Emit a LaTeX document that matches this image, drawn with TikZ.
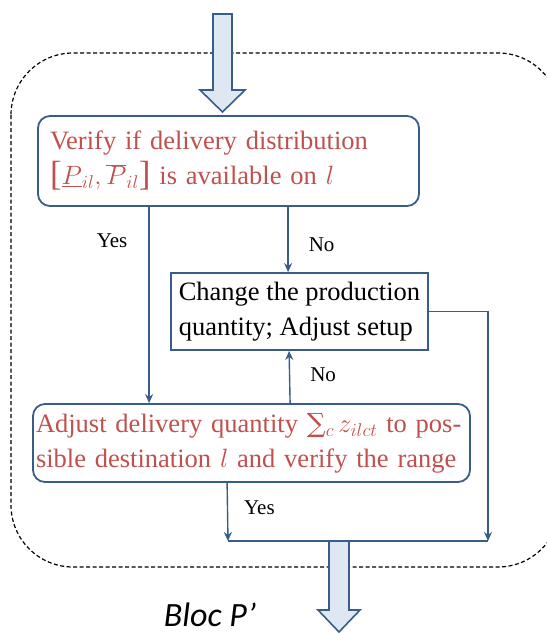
\RequirePackage{fix-cm}
\documentclass[tikz,border=0pt]{standalone}
\usepackage{fontspec}
\setmainfont{Liberation Serif}
\newfontfamily\blocfont{Carlito}
\newfontfamily\sumfont{DejaVu Serif}
\usetikzlibrary{arrows.meta}
\definecolor{boxblue}{RGB}{56,93,138}
\definecolor{textred}{RGB}{192,80,77}
\definecolor{arrowfill}{RGB}{222,232,243}
\newcommand\tallbr[1]{{\fontsize{35}{35}\selectfont\raisebox{-1pt}{#1}}}

\begin{document}
\begin{tikzpicture}[x=1pt,y=-1pt,
    box/.style={draw=boxblue,line width=1.8pt,align=left,inner sep=0pt,
      font=\fontsize{26.5}{35}\selectfont},
    flow/.style={draw=boxblue,line width=1.4pt,-{Stealth[length=9pt,width=8pt]}},
    lbl/.style={font=\fontsize{21}{24}\selectfont,inner sep=0pt},
    bigarrow/.style={draw=boxblue,line width=1.6pt,fill=arrowfill}]
  \useasboundingbox (0,0) rectangle (547,633);
  \draw[line width=1.2pt,dash pattern=on 4pt off 2.5pt,rounded corners=62pt]
    (11,53) rectangle (560,567);
  % input arrow
  \draw[bigarrow] (213,14) -- (232,14) -- (232,90) -- (245,90) -- (222.5,112)
    -- (200,90) -- (213,90) -- cycle;
  \node[box,rounded corners=12pt,minimum width=381pt,minimum height=90pt,
    text=textred,text width=357pt] (verify) at (228.5,161)
    {Verify if delivery distribution\\
     \tallbr{[}$\underline{P}_{il},\overline{P}_{il}$\tallbr{]} is available on $l$};
  \node[box,minimum width=257pt,minimum height=77pt] (change) at (299.5,311.5)
    {Change the production\\quantity; Adjust setup};
  \node[box,rounded corners=12pt,minimum width=437pt,minimum height=78pt,
    text=textred,text width=431pt] (adjust) at (251.5,443)
    {Adjust delivery quantity {\sumfont ∑}$_c\,z_{ilct}$ to pos-\\
     sible destination $l$ and verify the range};
  \coordinate (join) at (228,541);
  \coordinate (rt) at (488,541);
  \draw[flow] ([xshift=112pt]verify.south west) --
    node[lbl,pos=.17,left=21pt]{Yes} ([xshift=117pt]adjust.north west);
  \draw[flow] ([xshift=251pt]verify.south west) --
    node[lbl,pos=.58,right=20pt]{No} ([xshift=118pt]change.north west);
  \draw[flow] ([xshift=258pt]adjust.north west) --
    node[lbl,pos=.54,right=20pt]{No} ([xshift=119pt]change.south west);
  \draw[flow] ([xshift=195pt]adjust.south west) --
    node[lbl,pos=.42,right=16pt]{Yes} (join);
  \draw[flow] (change.east) -| (rt);
  \draw[draw=boxblue,line width=1.4pt] (join) -- (rt);
  % output arrow
  \draw[bigarrow] (329,541) -- (349,541) -- (349,610) -- (360,610) -- (339,632)
    -- (318,610) -- (329,610) -- cycle;
  \node[font=\blocfont\itshape\fontsize{34}{40}\selectfont,anchor=base]
    (bloc) at (210,626) {Bloc P’};
\end{tikzpicture}
\end{document}
